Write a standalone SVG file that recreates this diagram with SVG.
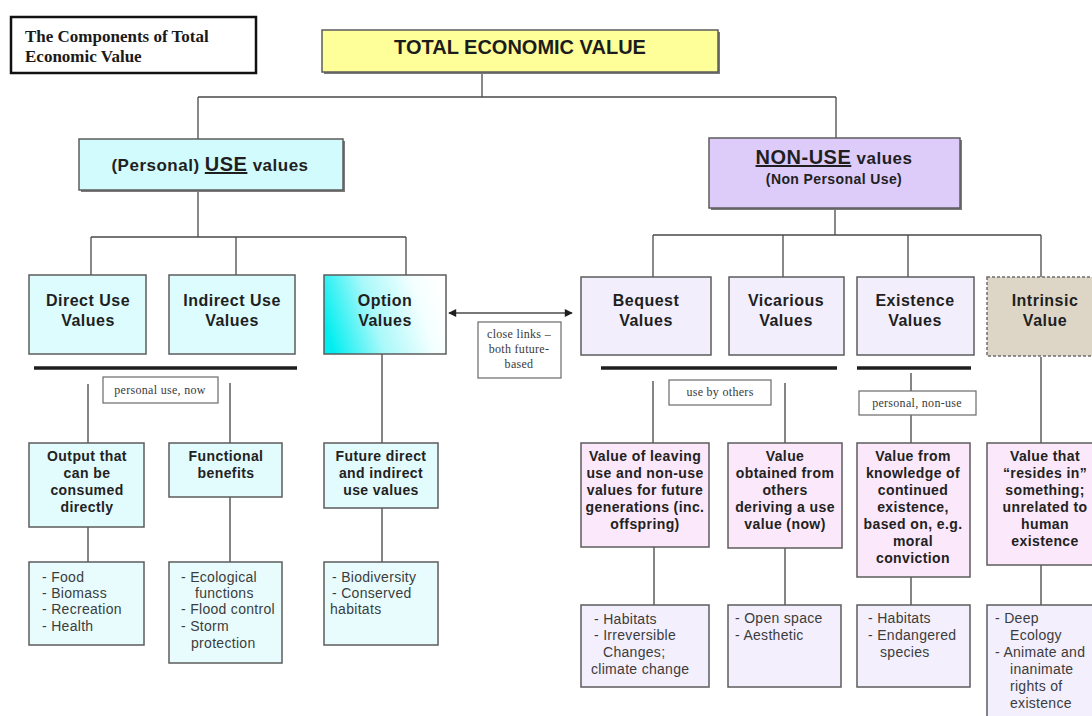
<svg xmlns="http://www.w3.org/2000/svg" width="1092" height="716" viewBox="0 0 1092 716">
  <style>
    .conn { fill: none; stroke: #4a4a4a; stroke-width: 1.3; }
    .conn2 { fill: none; stroke: #858585; stroke-width: 2; }
    .bar { stroke: #1e1e1e; stroke-width: 3.5; }
    .box { stroke: #5c5c5c; stroke-width: 1.5; }
    .shadow { fill: #7a7a7a; }
    .use1 { fill: #dcfcfe; }
    .use2 { fill: #e2fbfd; }
    .use3 { fill: #e8fcfe; }
    .non1 { fill: #f2eefc; }
    .non2 { fill: #fbe9fb; }
    .non3 { fill: #f3effc; }
    .notebox { fill: #ffffff; stroke: #6a6a6a; stroke-width: 1.2; }
    .h20 { font-family: "Liberation Sans", Arial, sans-serif; font-weight: bold; font-size: 20px; fill: #1c1c1c; text-anchor: middle; }
    .h16 { font-family: "Liberation Sans", Arial, sans-serif; font-weight: bold; font-size: 16px; fill: #1f1f1f; text-anchor: middle; letter-spacing: 0.5px; }
    .h14 { font-family: "Liberation Sans", Arial, sans-serif; font-weight: bold; font-size: 14px; fill: #222222; text-anchor: middle; letter-spacing: 0.4px; }
    .li { font-family: "Liberation Sans", Arial, sans-serif; font-size: 14px; fill: #3c3c3c; letter-spacing: 0.3px; }
    .note { font-family: "Liberation Serif", "Times New Roman", serif; font-size: 12px; fill: #3a3a3a; text-anchor: middle; letter-spacing: 0.3px; }
    .title { font-family: "Liberation Serif", "Times New Roman", serif; font-weight: bold; font-size: 17px; fill: #1a1a1a; }
  </style>
  <defs>
    <marker id="arrow" viewBox="0 0 10 10" refX="9" refY="5" markerWidth="9" markerHeight="8" markerUnits="userSpaceOnUse" orient="auto-start-reverse">
      <path d="M0,0 L10,5 L0,10 z" fill="#1e1e1e"/>
    </marker>
    <linearGradient id="optFill" x1="0" y1="0.6" x2="1" y2="0.4">
      <stop offset="0" stop-color="#00eef0"/>
      <stop offset="0.4" stop-color="#a8f8fa"/>
      <stop offset="0.8" stop-color="#f4ffff"/>
      <stop offset="1" stop-color="#ffffff"/>
    </linearGradient>
  </defs>

  <rect width="1092" height="716" fill="#ffffff"/>

  <!-- connectors -->
  <g id="connectors">
    <path class="conn" d="M482 72 V97 M198 97 H836 M198 97 V139 M836 97 V138"/>
    <path class="conn" d="M198 190 V237 M91 237 H406 M91 237 V275 M236 237 V275 M406 237 V275"/>
    <path class="conn" d="M835 208 V235 M653 235 H1041 M653 235 V277 M783 235 V277 M908 235 V277 M1041 235 V277"/>
    <line class="bar" x1="34" y1="368" x2="297" y2="368"/>
    <line class="bar" x1="601" y1="368" x2="837" y2="368"/>
    <line class="bar" x1="857" y1="368" x2="971" y2="368"/>
    <path class="conn2" d="M88 384 V443 M230 383 V443 M382 354 V443"/>
    <path class="conn2" d="M88 527 V562 M230 497 V562 M382 508 V562"/>
    <path class="conn2" d="M653 381 V443 M785 383 V443 M911 373 V391 M911 415 V443 M1041 357 V443"/>
    <path class="conn2" d="M654 547 V605 M785 548 V605 M911 577 V605 M1041 565 V605"/>
    <line class="conn" x1="449" y1="313" x2="572" y2="313" stroke="#2a2a2a" marker-start="url(#arrow)" marker-end="url(#arrow)"/>
  </g>

  <!-- heading box -->
  <g id="title">
    <rect x="11" y="17" width="245" height="56" fill="#ffffff" stroke="#111111" stroke-width="2.5"/>
    <text class="title" x="25" y="42">The Components of Total</text>
    <text class="title" x="25" y="62">Economic Value</text>
  </g>

  <g id="total-economic-value">
    <rect class="shadow" x="324" y="32" width="396" height="42"/>
    <rect class="box" x="322" y="30" width="396" height="42" fill="#ffff99"/>
    <text class="h20" x="520" y="54">TOTAL ECONOMIC VALUE</text>
  </g>

  <g id="use-values">
    <rect class="shadow" x="81" y="141" width="264" height="51"/>
    <rect class="box" x="79" y="139" width="264" height="51" fill="#d2fbfd"/>
    <text class="h16" x="210" y="171" style="font-size:17px"><tspan>(Personal) </tspan><tspan style="font-size:20px" text-decoration="underline">USE</tspan><tspan> values</tspan></text>
  </g>

  <g id="non-use-values">
    <rect class="shadow" x="711" y="140" width="251" height="70"/>
    <rect class="box" x="709" y="138" width="251" height="70" fill="#ddcbfa"/>
    <text class="h16" x="834" y="164" style="font-size:17px"><tspan style="font-size:20px" text-decoration="underline">NON-USE</tspan><tspan> values</tspan></text>
    <text class="h14" x="834" y="184">(Non Personal Use)</text>
  </g>

  <!-- use branch -->
  <g id="direct-use">
    <rect class="box use1" x="29" y="275" width="117" height="79"/>
    <text class="h16" x="88" y="306">Direct Use</text>
    <text class="h16" x="88" y="326">Values</text>
  </g>
  <g id="indirect-use">
    <rect class="box use1" x="169" y="275" width="126" height="79"/>
    <text class="h16" x="232" y="306">Indirect Use</text>
    <text class="h16" x="232" y="326">Values</text>
  </g>
  <g id="option">
    <rect class="box" x="324" y="275" width="122" height="79" fill="url(#optFill)"/>
    <text class="h16" x="385" y="306">Option</text>
    <text class="h16" x="385" y="326">Values</text>
  </g>

  <g id="note-personal-use">
    <rect class="notebox" x="103" y="377" width="115" height="26"/>
    <text class="note" x="160" y="394">personal use, now</text>
  </g>
  <g id="note-close-links">
    <rect class="notebox" x="478" y="322" width="83" height="56"/>
    <text class="note" x="519" y="338">close links –</text>
    <text class="note" x="519" y="353">both future-</text>
    <text class="note" x="519" y="368">based</text>
  </g>

  <g id="output">
    <rect class="box use2" x="29" y="443" width="115" height="84"/>
    <text class="h14" x="87" y="461">Output that</text>
    <text class="h14" x="87" y="478">can be</text>
    <text class="h14" x="87" y="495">consumed</text>
    <text class="h14" x="87" y="512">directly</text>
  </g>
  <g id="functional">
    <rect class="box use2" x="169" y="443" width="113" height="54"/>
    <text class="h14" x="226" y="461">Functional</text>
    <text class="h14" x="226" y="478">benefits</text>
  </g>
  <g id="future">
    <rect class="box use2" x="324" y="443" width="114" height="65"/>
    <text class="h14" x="381" y="461">Future direct</text>
    <text class="h14" x="381" y="478">and indirect</text>
    <text class="h14" x="381" y="495">use values</text>
  </g>

  <g id="direct-examples">
    <rect class="box use3" x="29" y="562" width="115" height="83"/>
    <text class="li" x="42" y="582">- Food</text>
    <text class="li" x="42" y="598">- Biomass</text>
    <text class="li" x="42" y="614">- Recreation</text>
    <text class="li" x="42" y="631">- Health</text>
  </g>
  <g id="indirect-examples">
    <rect class="box use3" x="169" y="562" width="113" height="101"/>
    <text class="li" x="181" y="582">- Ecological</text>
    <text class="li" x="195" y="598">functions</text>
    <text class="li" x="181" y="614">- Flood control</text>
    <text class="li" x="181" y="631">- Storm</text>
    <text class="li" x="191" y="648">protection</text>
  </g>
  <g id="option-examples">
    <rect class="box use3" x="324" y="562" width="114" height="83"/>
    <text class="li" x="332" y="582">- Biodiversity</text>
    <text class="li" x="332" y="598">- Conserved</text>
    <text class="li" x="330" y="614">habitats</text>
  </g>

  <!-- non-use branch -->
  <g id="bequest">
    <rect class="box non1" x="581" y="277" width="130" height="78"/>
    <text class="h16" x="646" y="306">Bequest</text>
    <text class="h16" x="646" y="326">Values</text>
  </g>
  <g id="vicarious">
    <rect class="box non1" x="729" y="277" width="115" height="78"/>
    <text class="h16" x="786" y="306">Vicarious</text>
    <text class="h16" x="786" y="326">Values</text>
  </g>
  <g id="existence">
    <rect class="box non1" x="857" y="277" width="117" height="78"/>
    <text class="h16" x="915" y="306">Existence</text>
    <text class="h16" x="915" y="326">Values</text>
  </g>
  <g id="intrinsic">
    <rect x="987" y="277" width="120" height="79" fill="#ddd6c7" stroke="#6e6e6e" stroke-width="1.5" stroke-dasharray="3 2"/>
    <text class="h16" x="1045" y="306">Intrinsic</text>
    <text class="h16" x="1045" y="326">Value</text>
  </g>

  <g id="note-use-by-others">
    <rect class="notebox" x="669" y="380" width="102" height="25"/>
    <text class="note" x="720" y="396">use by others</text>
  </g>
  <g id="note-personal-non-use">
    <rect class="notebox" x="859" y="391" width="117" height="24"/>
    <text class="note" x="917" y="407">personal, non-use</text>
  </g>

  <g id="leaving">
    <rect class="box non2" x="581" y="443" width="128" height="104"/>
    <text class="h14" x="645" y="461">Value of leaving</text>
    <text class="h14" x="645" y="478">use and non-use</text>
    <text class="h14" x="645" y="495">values for future</text>
    <text class="h14" x="645" y="512">generations (inc.</text>
    <text class="h14" x="645" y="529">offspring)</text>
  </g>
  <g id="obtained">
    <rect class="box non2" x="728" y="443" width="114" height="105"/>
    <text class="h14" x="785" y="461">Value</text>
    <text class="h14" x="785" y="478">obtained from</text>
    <text class="h14" x="785" y="495">others</text>
    <text class="h14" x="785" y="512">deriving a use</text>
    <text class="h14" x="785" y="529">value (now)</text>
  </g>
  <g id="knowledge">
    <rect class="box non2" x="857" y="443" width="113" height="134"/>
    <text class="h14" x="913" y="461">Value from</text>
    <text class="h14" x="913" y="478">knowledge of</text>
    <text class="h14" x="913" y="495">continued</text>
    <text class="h14" x="913" y="512">existence,</text>
    <text class="h14" x="913" y="529">based on, e.g.</text>
    <text class="h14" x="913" y="546">moral</text>
    <text class="h14" x="913" y="563">conviction</text>
  </g>
  <g id="resides">
    <rect class="box non2" x="987" y="443" width="120" height="122"/>
    <text class="h14" x="1045" y="461">Value that</text>
    <text class="h14" x="1045" y="478">“resides in”</text>
    <text class="h14" x="1045" y="495">something;</text>
    <text class="h14" x="1045" y="512">unrelated to</text>
    <text class="h14" x="1045" y="529">human</text>
    <text class="h14" x="1045" y="546">existence</text>
  </g>

  <g id="bequest-examples">
    <rect class="box non3" x="581" y="605" width="128" height="82"/>
    <text class="li" x="594" y="624">- Habitats</text>
    <text class="li" x="594" y="640">- Irreversible</text>
    <text class="li" x="603" y="657">Changes;</text>
    <text class="li" x="591" y="674">climate change</text>
  </g>
  <g id="vicarious-examples">
    <rect class="box non3" x="728" y="605" width="113" height="82"/>
    <text class="li" x="735" y="623">- Open space</text>
    <text class="li" x="735" y="640">- Aesthetic</text>
  </g>
  <g id="existence-examples">
    <rect class="box non3" x="857" y="605" width="113" height="82"/>
    <text class="li" x="868" y="623">- Habitats</text>
    <text class="li" x="868" y="640">- Endangered</text>
    <text class="li" x="880" y="657">species</text>
  </g>
  <g id="intrinsic-examples">
    <rect class="box non3" x="987" y="605" width="120" height="125"/>
    <text class="li" x="995" y="623">- Deep</text>
    <text class="li" x="1010" y="640">Ecology</text>
    <text class="li" x="995" y="657">- Animate and</text>
    <text class="li" x="1010" y="674">inanimate</text>
    <text class="li" x="1010" y="691">rights of</text>
    <text class="li" x="1010" y="708">existence</text>
  </g>
</svg>
